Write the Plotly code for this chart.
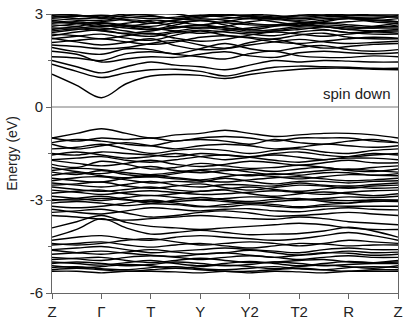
import plotly.graph_objects as go

# k-path: high-symmetry points and midpoints
k_points = [0, 0.5, 1, 1.5, 2, 2.5, 3, 3.5, 4, 4.5, 5, 5.5, 6, 6.5, 7]
tick_pos = [0, 1, 2, 3, 4, 5, 6, 7]
tick_labels = ["Z", "Γ", "T", "Y", "Y2", "T2", "R", "Z"]

conduction_bands = [
    [1.06, 0.70, 0.30, 0.75, 1.00, 1.05, 1.02, 0.92, 1.05, 1.15, 1.22, 1.25, 1.25, 1.22, 1.20],
    [1.38, 1.15, 0.95, 1.10, 1.20, 1.22, 1.15, 1.00, 1.15, 1.28, 1.32, 1.30, 1.28, 1.25, 1.25],
    [1.50, 1.30, 1.10, 1.30, 1.45, 1.35, 1.30, 1.20, 1.35, 1.50, 1.45, 1.50, 1.48, 1.45, 1.45],
    [1.62, 1.58, 1.50, 1.72, 1.78, 1.70, 1.62, 1.55, 1.72, 1.80, 1.65, 1.60, 1.60, 1.65, 1.62],
    [1.80, 1.70, 1.45, 1.55, 1.62, 1.60, 1.70, 1.78, 1.65, 1.60, 1.75, 1.80, 1.75, 1.72, 1.75],
    [1.92, 1.78, 1.70, 1.88, 1.85, 1.72, 1.88, 2.05, 1.88, 1.80, 1.92, 1.98, 1.85, 1.80, 1.85],
    [2.00, 1.95, 1.88, 1.92, 2.05, 2.15, 2.00, 1.90, 2.08, 2.18, 2.02, 1.90, 1.95, 2.02, 2.05],
    [2.08, 2.15, 2.20, 2.10, 2.02, 2.10, 2.25, 2.30, 2.22, 2.10, 2.05, 2.12, 2.20, 2.25, 2.22],
    [2.22, 2.10, 2.00, 2.08, 2.20, 1.98, 1.85, 1.88, 2.00, 2.10, 2.18, 2.10, 2.05, 2.08, 2.12],
    [2.20, 2.28, 2.35, 2.22, 2.15, 2.32, 2.45, 2.32, 2.25, 2.20, 2.32, 2.38, 2.25, 2.20, 2.20],
    [2.30, 2.42, 2.48, 2.35, 2.28, 2.40, 2.48, 2.42, 2.35, 2.30, 2.42, 2.48, 2.40, 2.35, 2.35],
    [2.35, 2.30, 2.20, 2.30, 2.38, 2.22, 2.12, 2.18, 2.32, 2.42, 2.35, 2.28, 2.35, 2.42, 2.38],
    [2.40, 2.50, 2.55, 2.45, 2.35, 2.45, 2.55, 2.50, 2.40, 2.45, 2.55, 2.50, 2.40, 2.45, 2.50],
    [2.45, 2.52, 2.45, 2.38, 2.45, 2.58, 2.62, 2.55, 2.50, 2.45, 2.50, 2.58, 2.50, 2.45, 2.45],
    [2.50, 2.60, 2.70, 2.60, 2.50, 2.65, 2.80, 2.65, 2.50, 2.60, 2.70, 2.60, 2.50, 2.60, 2.70],
    [2.55, 2.55, 2.62, 2.62, 2.55, 2.45, 2.38, 2.45, 2.55, 2.62, 2.62, 2.60, 2.55, 2.55, 2.55],
    [2.60, 2.68, 2.72, 2.65, 2.60, 2.72, 2.78, 2.72, 2.65, 2.65, 2.72, 2.72, 2.65, 2.60, 2.60],
    [2.65, 2.60, 2.50, 2.60, 2.70, 2.80, 2.85, 2.80, 2.70, 2.65, 2.70, 2.80, 2.85, 2.80, 2.75],
    [2.70, 2.75, 2.65, 2.55, 2.50, 2.55, 2.65, 2.55, 2.45, 2.50, 2.60, 2.65, 2.60, 2.55, 2.65],
    [2.75, 2.70, 2.75, 2.82, 2.75, 2.60, 2.55, 2.60, 2.75, 2.82, 2.75, 2.70, 2.75, 2.80, 2.75],
    [2.80, 2.70, 2.60, 2.70, 2.80, 2.75, 2.65, 2.75, 2.85, 2.75, 2.65, 2.75, 2.85, 2.75, 2.70],
    [2.85, 2.80, 2.80, 2.88, 2.92, 2.85, 2.80, 2.85, 2.92, 2.85, 2.80, 2.85, 2.88, 2.80, 2.85],
    [2.90, 2.92, 2.96, 2.90, 2.85, 2.90, 2.96, 2.90, 2.85, 2.90, 2.96, 2.95, 2.90, 2.90, 2.90],
    [2.90, 2.95, 2.90, 2.80, 2.70, 2.80, 2.90, 2.95, 2.95, 2.90, 2.85, 2.90, 2.95, 2.95, 2.90],
    [2.95, 2.85, 2.90, 3.00, 2.95, 2.85, 2.95, 3.00, 2.90, 2.85, 2.95, 3.00, 2.90, 2.85, 2.95],
    [2.97, 2.97, 2.86, 2.95, 3.00, 3.00, 2.90, 3.00, 3.00, 2.95, 2.90, 2.95, 3.00, 2.97, 2.97],
]

valence_bands = [
    [-1.00, -0.85, -0.70, -0.85, -1.00, -0.90, -0.85, -0.75, -0.85, -0.95, -0.90, -0.85, -0.85, -0.90, -1.00],
    [-1.00, -1.10, -1.00, -1.05, -1.00, -1.10, -1.00, -0.95, -1.00, -1.10, -1.00, -1.00, -1.00, -1.10, -1.15],
    [-1.15, -1.05, -1.10, -1.20, -1.25, -1.10, -1.05, -1.10, -1.20, -1.05, -1.15, -1.20, -1.10, -1.05, -1.15],
    [-1.20, -1.35, -1.25, -1.15, -1.25, -1.35, -1.25, -1.20, -1.25, -1.35, -1.30, -1.20, -1.25, -1.30, -1.25],
    [-1.35, -1.30, -1.20, -1.35, -1.50, -1.40, -1.35, -1.40, -1.50, -1.40, -1.35, -1.45, -1.50, -1.40, -1.35],
    [-1.50, -1.55, -1.45, -1.50, -1.55, -1.60, -1.50, -1.55, -1.60, -1.50, -1.45, -1.55, -1.60, -1.55, -1.50],
    [-1.55, -1.45, -1.55, -1.65, -1.60, -1.50, -1.60, -1.70, -1.62, -1.55, -1.62, -1.70, -1.60, -1.50, -1.55],
    [-1.70, -1.65, -1.60, -1.72, -1.78, -1.70, -1.60, -1.55, -1.62, -1.72, -1.78, -1.70, -1.65, -1.65, -1.70],
    [-1.72, -1.82, -1.90, -1.82, -1.72, -1.85, -1.92, -1.85, -1.75, -1.80, -1.88, -1.80, -1.72, -1.80, -1.80],
    [-1.85, -1.95, -1.75, -1.85, -2.00, -1.95, -1.82, -1.90, -1.98, -1.95, -1.88, -1.95, -2.02, -1.95, -1.90],
    [-1.95, -2.08, -2.15, -2.02, -1.92, -2.05, -2.12, -2.05, -2.02, -2.08, -2.00, -1.95, -2.05, -2.08, -2.00],
    [-2.05, -1.98, -2.02, -2.12, -2.18, -2.10, -2.02, -2.00, -2.10, -2.18, -2.12, -2.05, -2.00, -2.05, -2.10],
    [-2.10, -2.18, -2.05, -2.18, -2.25, -2.15, -2.05, -2.15, -2.22, -2.15, -2.20, -2.12, -2.12, -2.20, -2.15],
    [-2.20, -2.12, -2.22, -2.28, -2.20, -2.28, -2.35, -2.25, -2.18, -2.25, -2.32, -2.25, -2.18, -2.20, -2.22],
    [-2.30, -2.38, -2.42, -2.30, -2.25, -2.32, -2.38, -2.42, -2.35, -2.28, -2.25, -2.32, -2.38, -2.35, -2.30],
    [-2.38, -2.28, -2.25, -2.35, -2.45, -2.40, -2.42, -2.30, -2.40, -2.48, -2.40, -2.40, -2.45, -2.40, -2.38],
    [-2.45, -2.52, -2.58, -2.50, -2.40, -2.52, -2.58, -2.50, -2.52, -2.55, -2.45, -2.52, -2.55, -2.50, -2.45],
    [-2.52, -2.48, -2.42, -2.55, -2.62, -2.55, -2.48, -2.60, -2.68, -2.60, -2.52, -2.55, -2.62, -2.55, -2.52],
    [-2.58, -2.66, -2.72, -2.66, -2.58, -2.68, -2.72, -2.65, -2.58, -2.66, -2.72, -2.65, -2.58, -2.62, -2.60],
    [-2.68, -2.75, -2.82, -2.75, -2.70, -2.76, -2.82, -2.80, -2.75, -2.70, -2.76, -2.82, -2.75, -2.70, -2.68],
    [-2.78, -2.72, -2.68, -2.80, -2.86, -2.80, -2.72, -2.68, -2.80, -2.88, -2.80, -2.74, -2.80, -2.86, -2.80],
    [-2.88, -2.95, -3.02, -2.92, -2.85, -2.92, -2.98, -2.95, -2.90, -2.92, -2.98, -2.95, -2.90, -2.92, -2.88],
    [-2.98, -3.00, -2.95, -3.00, -3.05, -3.05, -3.00, -3.05, -3.10, -3.05, -3.00, -3.00, -3.02, -3.00, -3.00],
    [-3.02, -2.95, -2.88, -2.98, -3.10, -3.00, -2.92, -3.00, -3.05, -2.98, -2.95, -3.05, -3.10, -3.00, -3.02],
    [-3.10, -3.05, -3.10, -3.18, -3.12, -3.15, -3.22, -3.15, -3.10, -3.15, -3.22, -3.15, -3.10, -3.05, -3.05],
    [-3.20, -3.25, -3.20, -3.10, -3.00, -3.10, -3.20, -3.22, -3.15, -3.20, -3.25, -3.20, -3.20, -3.20, -3.20],
    [-3.30, -3.40, -3.45, -3.35, -3.25, -3.30, -3.35, -3.30, -3.28, -3.35, -3.38, -3.30, -3.25, -3.30, -3.32],
    [-3.40, -3.35, -3.30, -3.42, -3.55, -3.50, -3.40, -3.35, -3.42, -3.52, -3.50, -3.45, -3.40, -3.45, -3.50],
    [-3.50, -3.55, -3.62, -3.65, -3.60, -3.55, -3.50, -3.55, -3.60, -3.62, -3.55, -3.60, -3.70, -3.75, -3.80],
    [-3.90, -3.70, -3.50, -3.72, -3.85, -3.90, -3.95, -3.90, -3.85, -3.80, -3.75, -3.80, -3.90, -3.95, -3.95],
    [-4.20, -3.95, -3.60, -3.90, -4.10, -4.05, -3.98, -4.05, -4.12, -4.10, -4.08, -4.00, -3.88, -4.00, -4.20],
    [-4.30, -4.20, -4.15, -4.25, -4.30, -4.20, -4.15, -4.20, -4.25, -4.30, -4.25, -4.15, -4.05, -4.15, -4.30],
    [-4.40, -4.45, -4.40, -4.30, -4.25, -4.35, -4.45, -4.40, -4.35, -4.40, -4.48, -4.40, -4.30, -4.35, -4.40],
    [-4.45, -4.40, -4.35, -4.45, -4.52, -4.45, -4.40, -4.48, -4.55, -4.48, -4.40, -4.42, -4.48, -4.45, -4.45],
    [-4.60, -4.55, -4.50, -4.60, -4.70, -4.65, -4.60, -4.55, -4.60, -4.65, -4.70, -4.60, -4.55, -4.60, -4.60],
    [-4.62, -4.70, -4.75, -4.68, -4.60, -4.68, -4.75, -4.70, -4.62, -4.70, -4.78, -4.72, -4.65, -4.70, -4.68],
    [-4.75, -4.70, -4.65, -4.72, -4.78, -4.82, -4.75, -4.70, -4.78, -4.85, -4.78, -4.70, -4.72, -4.78, -4.75],
    [-4.85, -4.90, -4.95, -4.85, -4.80, -4.85, -4.92, -4.85, -4.80, -4.85, -4.92, -4.85, -4.80, -4.85, -4.85],
    [-4.92, -4.88, -4.85, -4.95, -5.02, -4.95, -4.88, -4.95, -5.02, -5.00, -4.95, -4.92, -5.00, -5.02, -4.95],
    [-5.00, -5.05, -5.10, -5.02, -4.95, -5.05, -5.12, -5.05, -4.98, -5.05, -5.12, -5.05, -4.98, -5.02, -5.00],
    [-5.05, -5.00, -5.05, -5.12, -5.08, -5.00, -5.05, -5.12, -5.08, -5.00, -5.05, -5.12, -5.08, -5.05, -5.05],
    [-5.12, -5.18, -5.15, -5.08, -5.12, -5.20, -5.15, -5.10, -5.15, -5.22, -5.15, -5.10, -5.15, -5.20, -5.12],
    [-5.18, -5.15, -5.22, -5.25, -5.18, -5.15, -5.22, -5.25, -5.20, -5.15, -5.22, -5.25, -5.18, -5.15, -5.18],
    [-5.25, -5.20, -5.25, -5.30, -5.25, -5.20, -5.25, -5.30, -5.30, -5.25, -5.20, -5.25, -5.30, -5.25, -5.25],
    [-5.30, -5.30, -5.35, -5.30, -5.30, -5.32, -5.35, -5.30, -5.35, -5.30, -5.32, -5.35, -5.30, -5.30, -5.30],
]

fig = go.Figure()
for band in conduction_bands + valence_bands:
    fig.add_trace(go.Scatter(
        x=k_points, y=band, mode="lines",
        line=dict(color="black", width=1.4, shape="spline", smoothing=1.0),
        hoverinfo="skip", showlegend=False,
    ))

fig.add_shape(type="line", xref="x", yref="y", x0=0, x1=7, y0=0, y1=0,
              line=dict(color="#777777", width=1))

fig.add_annotation(text="spin down", xref="x", yref="y", x=6.9, y=0.45,
                   xanchor="right", yanchor="middle", showarrow=False,
                   font=dict(family="Liberation Sans, Arial", size=15, color="#222222"))

fig.update_layout(
    width=408, height=325,
    margin=dict(l=52, r=5, t=13, b=24),
    paper_bgcolor="white", plot_bgcolor="white",
    font=dict(family="Liberation Sans, Arial", size=14, color="#222222"),
    xaxis=dict(
        range=[0, 7], tickvals=tick_pos, ticktext=tick_labels,
        showgrid=False, zeroline=False, showline=True, linecolor="#666666", linewidth=1,
        ticks="outside", ticklen=5, tickcolor="#666666",
        tickfont=dict(size=15),
    ),
    yaxis=dict(
        range=[-6, 3], tickvals=[3, 0, -3, -6], ticktext=["3", "0", "-3", "-6"],
        showgrid=False, zeroline=False, showline=True, linecolor="#666666", linewidth=1,
        mirror=True,
        ticks="outside", ticklen=5, tickcolor="#666666",
        minor=dict(tickvals=[1.5, -1.5, -4.5], ticks="outside", ticklen=3, tickcolor="#666666"),
        title=dict(text="Energy (eV)", standoff=8, font=dict(size=14)),
        tickfont=dict(size=15),
    ),
)

fig.write_html("out.html")
